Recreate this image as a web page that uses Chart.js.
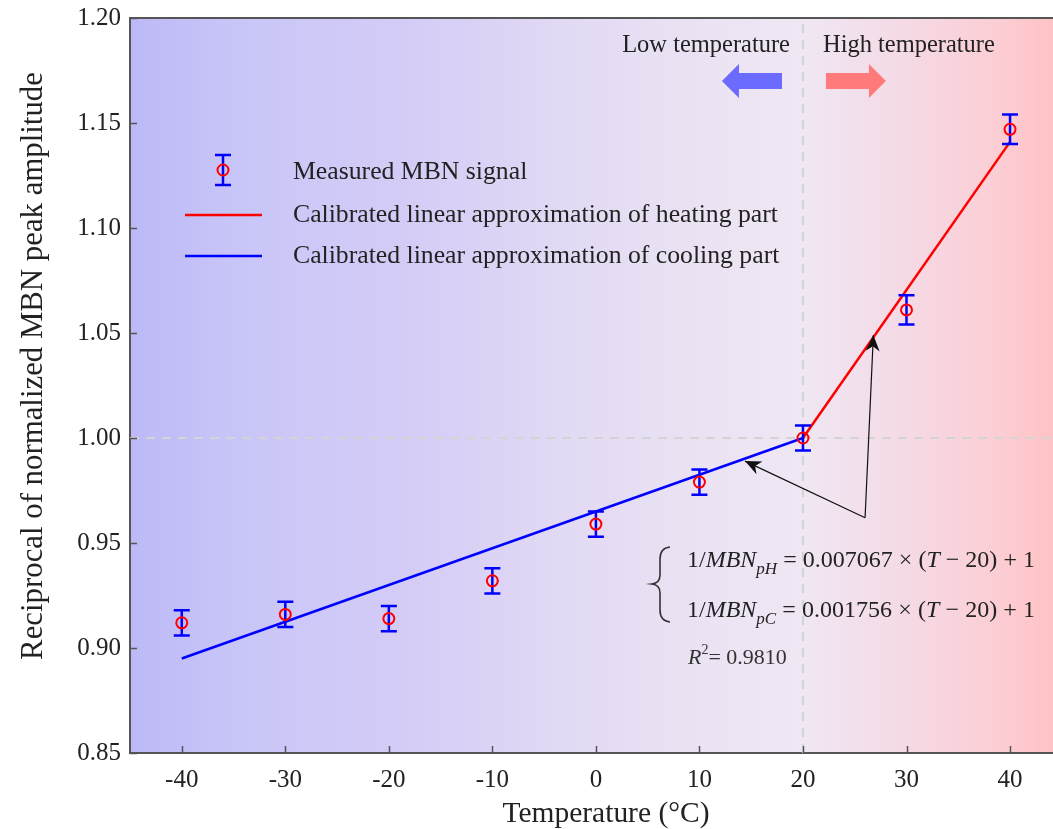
<!DOCTYPE html>
<html>
<head>
<meta charset="utf-8">
<script src="https://cdn.jsdelivr.net/npm/chart.js@4/dist/chart.umd.min.js"></script>
<style>
  html, body { margin: 0; padding: 0; background: #fff; }
  #wrap { width: 1053px; height: 829px; }
</style>
</head>
<body>
<div id="wrap"><canvas id="c" width="1053" height="829"></canvas></div>
<script>
// ---- data ----
const xTicks = [-40, -30, -20, -10, 0, 10, 20, 30, 40];
const yTicks = [0.85, 0.90, 0.95, 1.00, 1.05, 1.10, 1.15, 1.20];
const xRange = [-45, 44.15];
const yRange = [0.85, 1.20];

const temps    = [-40, -30, -20, -10, 0, 10, 20, 30, 40];
const measured = [0.912, 0.916, 0.914, 0.932, 0.959, 0.979, 1.000, 1.061, 1.147];
const errors   = [0.006, 0.006, 0.006, 0.006, 0.006, 0.006, 0.006, 0.007, 0.007];

const heatT = [20, 40];
const heatV = [1.000, 1.141];
const coolT = [-40, 20];
const coolV = [0.895, 1.000];

const refT = 20;      // dashed vertical
const refV = 1.00;    // dashed horizontal

// annotation arrows (data units)
const annoFrom = [26.0, 0.962];
const annoTips = [[14.4, 0.989], [26.8, 1.049]];

const TIMES = '"Liberation Serif", serif';
const GAP = null;

function fitSize(ctx, text, family, target, style) {
  ctx.font = (style || '') + ' 20px ' + family;
  return 20 * target / ctx.measureText(text).width;
}

function arrowHead(ctx, x0, y0, x1, y1, len, half) {
  const a = Math.atan2(y1 - y0, x1 - x0);
  const c = Math.cos(a), s = Math.sin(a);
  const bx = x1 - c * len, by = y1 - s * len;
  const nx = x1 - c * len * 0.7, ny = y1 - s * len * 0.7;
  ctx.beginPath();
  ctx.moveTo(x1, y1);
  ctx.lineTo(bx - s * half, by + c * half);
  ctx.lineTo(nx, ny);
  ctx.lineTo(bx + s * half, by - c * half);
  ctx.closePath();
  ctx.fill();
}

function blockArrow(ctx, xs, y, dir, color) {
  // xs: x of tail end; dir: -1 left, +1 right
  ctx.fillStyle = color;
  ctx.beginPath();
  ctx.moveTo(xs, y - 8);
  ctx.lineTo(xs + dir * 43, y - 8);
  ctx.lineTo(xs + dir * 43, y - 17);
  ctx.lineTo(xs + dir * 60, y);
  ctx.lineTo(xs + dir * 43, y + 17);
  ctx.lineTo(xs + dir * 43, y + 8);
  ctx.lineTo(xs, y + 8);
  ctx.closePath();
  ctx.fill();
}

// runs: [text, font, dy] or GAP; gaps share leftover width so the line spans `target`
function drawRuns(ctx, runs, x, y, target) {
  let natural = 0, gaps = 0;
  runs.forEach(r => {
    if (r === GAP) { gaps++; return; }
    ctx.font = r[1]; natural += ctx.measureText(r[0]).width;
  });
  const g = target && gaps ? Math.max((target - natural) / gaps, 2) : 0;
  ctx.textBaseline = 'alphabetic';
  ctx.textAlign = 'left';
  runs.forEach(r => {
    if (r === GAP) { x += g; return; }
    ctx.font = r[1];
    ctx.fillText(r[0], x, y + (r[2] || 0));
    x += ctx.measureText(r[0]).width;
  });
}

function equation(sub, coef, fs) {
  const n = fs + 'px ' + TIMES, it = 'italic ' + fs + 'px ' + TIMES;
  const sm = 'italic ' + Math.round(fs * 0.72) + 'px ' + TIMES;
  return [
    ['1/', n], ['MBN', it], [sub, sm, fs * 0.28], GAP, ['=', n], GAP,
    [coef, n], GAP, ['×', n], GAP, ['(', n], ['T', it], GAP, ['−', n], GAP,
    ['20)', n], GAP, ['+', n], GAP, ['1', n]
  ];
}

const deco = {
  id: 'deco',
  beforeDraw(chart) {
    const { ctx, chartArea: a } = chart;
    const g = ctx.createLinearGradient(a.left, 0, a.right, 0);
    g.addColorStop(0.00, '#bdb9f7');
    g.addColorStop(0.12, '#c8c6f8');
    g.addColorStop(0.30, '#d4ccf6');
    g.addColorStop(0.47, '#e2d9f4');
    g.addColorStop(0.62, '#ebe3f3');
    g.addColorStop(0.73, '#efe7f3');
    g.addColorStop(0.83, '#f4dbe7');
    g.addColorStop(0.93, '#fbcfd6');
    g.addColorStop(1.00, '#ffc3c5');
    ctx.save();
    ctx.fillStyle = g;
    ctx.fillRect(a.left, a.top, a.right - a.left, a.bottom - a.top);
    ctx.restore();
  },
  beforeDatasetDraw(chart, args) {
    if (args.index !== 0) return;
    const { ctx, scales: { x, y } } = chart;
    ctx.save();
    ctx.strokeStyle = '#0000ff';
    ctx.lineWidth = 2.5;
    temps.forEach((t, i) => {
      const px = x.getPixelForValue(t);
      const top = y.getPixelForValue(measured[i] + errors[i]);
      const bot = y.getPixelForValue(measured[i] - errors[i]);
      ctx.beginPath();
      ctx.moveTo(px, top); ctx.lineTo(px, bot);
      ctx.moveTo(px - 8, top); ctx.lineTo(px + 8, top);
      ctx.moveTo(px - 8, bot); ctx.lineTo(px + 8, bot);
      ctx.stroke();
    });
    ctx.restore();
  },
  afterDraw(chart) {
    const { ctx, chartArea: a, scales: { x, y } } = chart;
    ctx.save();

    // frame: top line and inward ticks
    ctx.strokeStyle = '#555';
    ctx.lineWidth = 2;
    ctx.beginPath();
    ctx.moveTo(a.left, a.top); ctx.lineTo(a.right, a.top);
    ctx.stroke();
    ctx.lineWidth = 1.5;
    ctx.beginPath();
    xTicks.forEach(v => {
      const px = Math.round(x.getPixelForValue(v)) + 0.5;
      ctx.moveTo(px, a.bottom); ctx.lineTo(px, a.bottom - 7);
    });
    yTicks.forEach(v => {
      const py = Math.round(y.getPixelForValue(v)) + 0.5;
      ctx.moveTo(a.left, py); ctx.lineTo(a.left + 7, py);
    });
    ctx.stroke();

    // legend
    const lx = a.left + 93, tx = a.left + 163;
    ctx.strokeStyle = '#0000ff'; ctx.lineWidth = 2.5;
    ctx.beginPath();
    ctx.moveTo(lx, 155); ctx.lineTo(lx, 185);
    ctx.moveTo(lx - 8, 155); ctx.lineTo(lx + 8, 155);
    ctx.moveTo(lx - 8, 185); ctx.lineTo(lx + 8, 185);
    ctx.stroke();
    ctx.strokeStyle = '#ff0000'; ctx.lineWidth = 2;
    ctx.beginPath(); ctx.arc(lx, 170, 5.5, 0, Math.PI * 2); ctx.stroke();
    ctx.lineWidth = 2.5;
    ctx.beginPath(); ctx.moveTo(lx - 38, 215); ctx.lineTo(lx + 39, 215); ctx.stroke();
    ctx.strokeStyle = '#0000ff';
    ctx.beginPath(); ctx.moveTo(lx - 38, 256); ctx.lineTo(lx + 39, 256); ctx.stroke();

    const l2 = 'Calibrated linear approximation of heating part';
    const lf = fitSize(ctx, l2, TIMES, 485);
    ctx.fillStyle = '#222';
    ctx.font = lf + 'px ' + TIMES;
    ctx.textAlign = 'left';
    ctx.textBaseline = 'alphabetic';
    ctx.fillText('Measured MBN signal', tx, 179);
    ctx.fillText(l2, tx, 222);
    ctx.fillText('Calibrated linear approximation of cooling part', tx, 263);

    // low / high temperature arrows
    const x20 = x.getPixelForValue(refT);
    const tf = fitSize(ctx, 'High temperature', TIMES, 172);
    ctx.font = tf + 'px ' + TIMES;
    ctx.textAlign = 'right';
    ctx.fillText('Low temperature', x20 - 13, 52);
    ctx.textAlign = 'left';
    ctx.fillText('High temperature', x20 + 20, 52);
    blockArrow(ctx, x20 - 21, 81, -1, '#6b6bff');
    blockArrow(ctx, x20 + 23, 81, 1, '#ff7a7a');

    // annotation arrows
    const fx = x.getPixelForValue(annoFrom[0]), fy = y.getPixelForValue(annoFrom[1]);
    ctx.strokeStyle = '#111'; ctx.fillStyle = '#111'; ctx.lineWidth = 1.2;
    annoTips.forEach(p => {
      const px = x.getPixelForValue(p[0]), py = y.getPixelForValue(p[1]);
      ctx.beginPath(); ctx.moveTo(fx, fy); ctx.lineTo(px, py); ctx.stroke();
      arrowHead(ctx, fx, fy, px, py, 16, 7);
    });

    // equations
    ctx.fillStyle = '#222';
    drawRuns(ctx, equation('pH', '0.007067', 24), 687, 567, 348);
    drawRuns(ctx, equation('pC', '0.001756', 24), 687, 617, 348);

    // brace
    ctx.strokeStyle = '#333'; ctx.lineWidth = 1.6;
    ctx.beginPath();
    ctx.moveTo(670, 547);
    ctx.quadraticCurveTo(660, 548, 660, 559);
    ctx.lineTo(660, 575);
    ctx.quadraticCurveTo(660, 583, 652, 584);
    ctx.quadraticCurveTo(660, 585, 660, 593);
    ctx.lineTo(660, 610);
    ctx.quadraticCurveTo(660, 621, 670, 622);
    ctx.stroke();

    // R^2
    ctx.fillStyle = '#333';
    drawRuns(ctx, [['R', 'italic 22px ' + TIMES], ['2', '14px ' + TIMES, -10], ['= 0.9810', '22px ' + TIMES]], 688, 664);

    // axis titles
    ctx.fillStyle = '#222';
    ctx.textAlign = 'center';
    ctx.textBaseline = 'alphabetic';
    const xt = 'Temperature (°C)';
    ctx.font = fitSize(ctx, xt, TIMES, 207) + 'px ' + TIMES;
    ctx.fillText(xt, 606, 822);
    const yt = 'Reciprocal of normalized MBN peak amplitude';
    ctx.textBaseline = 'middle';
    ctx.font = fitSize(ctx, yt, TIMES, 588) + 'px ' + TIMES;
    ctx.translate(34, 366);
    ctx.rotate(-Math.PI / 2);
    ctx.fillText(yt, 0, 0);
    ctx.restore();
  }
};

const pts = (xs, ys) => xs.map((v, i) => ({ x: v, y: ys[i] }));

new Chart(document.getElementById('c'), {
  type: 'scatter',
  data: {
    datasets: [
      { label: 'Measured MBN signal', data: pts(temps, measured), showLine: false,
        pointStyle: 'circle', pointRadius: 5.5, borderColor: '#ff0000', borderWidth: 2,
        backgroundColor: 'rgba(0,0,0,0)', order: 0 },
      { label: 'heating', data: pts(heatT, heatV), showLine: true, pointRadius: 0,
        borderColor: '#ff0000', borderWidth: 2.5, order: 1 },
      { label: 'cooling', data: pts(coolT, coolV), showLine: true, pointRadius: 0,
        borderColor: '#0000ff', borderWidth: 2.5, order: 1 },
      { label: 'refH', data: pts(xRange, [refV, refV]), showLine: true, pointRadius: 0,
        borderColor: '#d4d4d4', borderWidth: 2, borderDash: [9, 7], order: 2 },
      { label: 'refV', data: pts([refT, refT], yRange), showLine: true, pointRadius: 0,
        borderColor: '#d4d4d4', borderWidth: 2, borderDash: [9, 7], order: 2 }
    ]
  },
  options: {
    responsive: false,
    animation: false,
    layout: { autoPadding: false, padding: { top: 18, right: 0, left: 0, bottom: 0 } },
    plugins: { legend: { display: false }, tooltip: { enabled: false } },
    scales: {
      x: {
        type: 'linear', min: xRange[0], max: xRange[1],
        afterBuildTicks: s => { s.ticks = xTicks.map(v => ({ value: v })); },
        afterFit: s => { s.height = 76; s.paddingLeft = 0; s.paddingRight = 0; },
        grid: { display: false, drawTicks: false },
        border: { display: true, color: '#555', width: 2 },
        ticks: { color: '#222', padding: 12, maxRotation: 0, font: { family: TIMES, size: 25 },
                 callback: v => String(v) }
      },
      y: {
        type: 'linear', min: yRange[0], max: yRange[1],
        afterBuildTicks: s => { s.ticks = yTicks.map(v => ({ value: v })); },
        afterFit: s => { s.width = 130; s.paddingTop = 0; s.paddingBottom = 0; },
        grid: { display: false, drawTicks: false },
        border: { display: true, color: '#555', width: 2 },
        ticks: { color: '#222', padding: 9, font: { family: TIMES, size: 25 },
                 callback: v => Number(v).toFixed(2) }
      }
    }
  },
  plugins: [deco]
});
</script>
</body>
</html>
